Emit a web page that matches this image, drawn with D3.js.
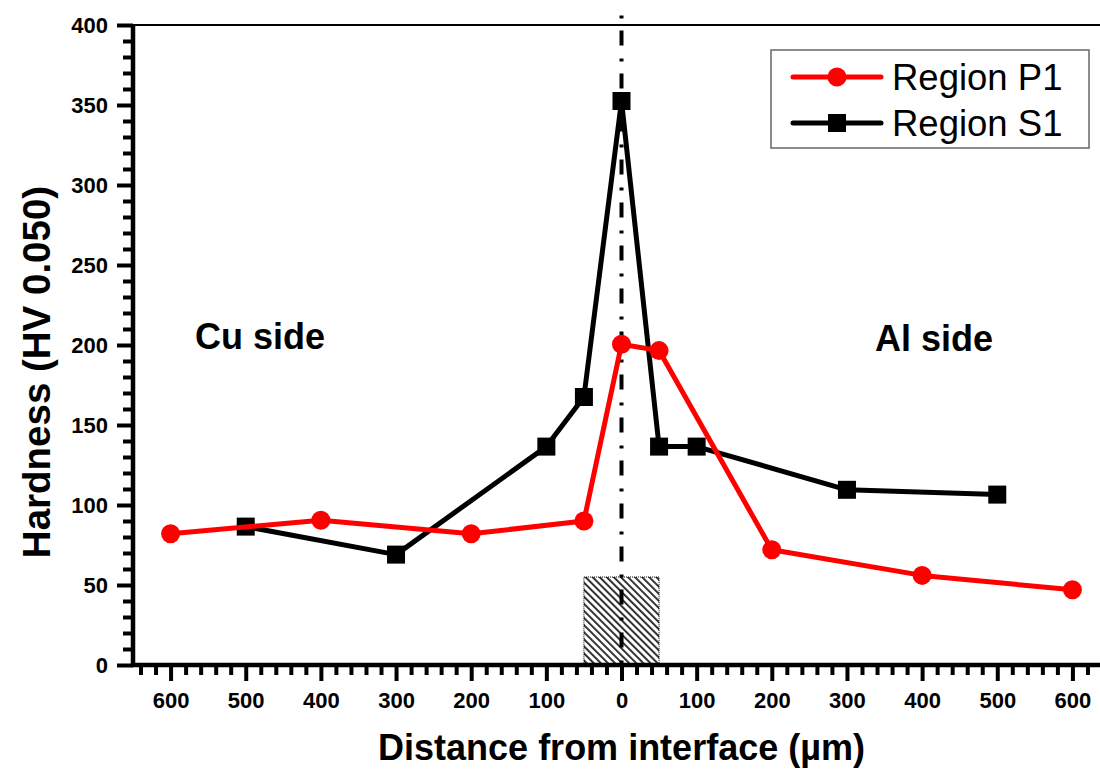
<!DOCTYPE html>
<html>
<head>
<meta charset="utf-8">
<script src="https://cdn.jsdelivr.net/npm/d3@7/dist/d3.min.js"></script>
<style>
  html, body { margin: 0; padding: 0; background: #fff; }
  svg { display: block; font-family: "Liberation Sans", Arial, sans-serif; }
</style>
</head>
<body>
<svg id="chart" width="1100" height="772"></svg>
<script>
// ---- Data ----
const seriesNames = ["Region P1", "Region S1"];
const xP1 = [-600, -400, -200, -50, 0, 50, 200, 400, 600];
const yP1 = [82, 90.5, 82, 90, 200.5, 196.5, 72, 56, 47];
const xS1 = [-500, -300, -100, -50, 0, 50, 100, 300, 500];
const yS1 = [86.5, 69, 136.5, 167.5, 352.5, 136.5, 136.5, 109.5, 106.5];
const xTickValues = [-600, -500, -400, -300, -200, -100, 0, 100, 200, 300, 400, 500, 600];
const yTickValues = [0, 50, 100, 150, 200, 250, 300, 350, 400];
const sideLabels = ["Cu side", "Al side"];
const interfaceZone = [-50, 50, 55];   // x from, x to, height (HV)
const xTitle = "Distance from interface (\u00b5m)";
const yTitle = "Hardness (HV 0.050)";

// ---- Layout ----
const svg = d3.select("#chart");
const x = d3.scaleLinear().domain([-650, 650]).range([133, 1110]);
const y = d3.scaleLinear().domain([0, 400]).range([665, 25]);
const RED = "#ff0000";

// Hatch pattern
const defs = svg.append("defs");
const pat = defs.append("pattern")
  .attr("id", "hatch").attr("patternUnits", "userSpaceOnUse")
  .attr("width", 5).attr("height", 5)
  .attr("patternTransform", "rotate(-45)");
pat.append("rect").attr("width", 5).attr("height", 5).attr("fill", "#fff");
pat.append("rect").attr("width", 1.9).attr("height", 5).attr("fill", "#2a2a2a");

// Interface hatched box
svg.append("rect")
  .attr("x", x(interfaceZone[0])).attr("y", y(interfaceZone[2]))
  .attr("width", x(interfaceZone[1]) - x(interfaceZone[0]))
  .attr("height", y(0) - y(interfaceZone[2]))
  .attr("fill", "url(#hatch)")
  .attr("stroke", "#000").attr("stroke-width", 1).attr("stroke-dasharray", "1,1");

// Top frame line
svg.append("line")
  .attr("x1", x(-650)).attr("x2", x(650)).attr("y1", y(400)).attr("y2", y(400))
  .attr("stroke", "#000").attr("stroke-width", 2);

// Dash-dot interface line
svg.append("line")
  .attr("x1", x(0)).attr("x2", x(0)).attr("y1", y(406)).attr("y2", y(0))
  .attr("stroke", "#000").attr("stroke-width", 4)
  .attr("stroke-dasharray", "15,13,3,12").attr("stroke-dashoffset", 28);

// ---- Axes ----
const xMinor = d3.range(-640, 641, 20).filter(v => v % 100 !== 0);
const yMinor = d3.range(10, 400, 10).filter(v => v % 50 !== 0);

const gxMinor = svg.append("g").attr("transform", `translate(0,${y(0)})`)
  .call(d3.axisBottom(x).tickValues(xMinor).tickSize(10).tickFormat(""));
const gx = svg.append("g").attr("transform", `translate(0,${y(0)})`)
  .call(d3.axisBottom(x).tickValues(xTickValues).tickSize(16).tickFormat(d => Math.abs(d)));
const gyMinor = svg.append("g").attr("transform", `translate(${x(-650)},0)`)
  .call(d3.axisLeft(y).tickValues(yMinor).tickSize(10).tickFormat(""));
const gy = svg.append("g").attr("transform", `translate(${x(-650)},0)`)
  .call(d3.axisLeft(y).tickValues(yTickValues).tickSize(16));

[gxMinor, gx, gyMinor, gy].forEach(g => {
  g.selectAll(".domain").attr("stroke", "#000").attr("stroke-width", 4.5);
  g.selectAll(".tick line").attr("stroke", "#000").attr("stroke-width", 4);
});
gx.select(".domain").attr("d", `M${x(-650) - 2},0H${x(650)}`);
gxMinor.select(".domain").remove();
gyMinor.select(".domain").remove();
gy.select(".domain").attr("d", `M0,${y(0) + 2}V${y(400)}`);

gx.selectAll(".tick text")
  .attr("y", 43).attr("dy", null)
  .attr("font-size", 22).attr("font-weight", "bold").attr("fill", "#000")
  .attr("font-family", "Liberation Sans, Arial, sans-serif");
gy.selectAll(".tick text")
  .attr("x", -25).attr("dy", "0.36em")
  .attr("font-size", 22).attr("font-weight", "bold").attr("fill", "#000")
  .attr("font-family", "Liberation Sans, Arial, sans-serif");

// Axis titles
svg.append("text")
  .attr("x", x(0)).attr("y", 760)
  .attr("text-anchor", "middle").attr("font-size", 36).attr("font-weight", "bold")
  .text(xTitle);
svg.append("text")
  .attr("transform", "translate(50,372) rotate(-90)")
  .attr("text-anchor", "middle").attr("font-size", 38.5).attr("font-weight", "bold")
  .text(yTitle);

// Side labels
svg.append("text").attr("x", 195).attr("y", 349)
  .attr("font-size", 36).attr("font-weight", "bold").text(sideLabels[0]);
svg.append("text").attr("x", 875).attr("y", 351)
  .attr("font-size", 36).attr("font-weight", "bold").text(sideLabels[1]);

// ---- Series ----
const line = d3.line().x(d => x(d[0])).y(d => y(d[1]));
const s1 = xS1.map((v, i) => [v, yS1[i]]);
const p1 = xP1.map((v, i) => [v, yP1[i]]);

svg.append("path").datum(s1).attr("d", line)
  .attr("fill", "none").attr("stroke", "#000").attr("stroke-width", 5).attr("stroke-linejoin", "round");
svg.selectAll(".sq").data(s1).enter().append("rect")
  .attr("x", d => x(d[0]) - 9).attr("y", d => y(d[1]) - 9)
  .attr("width", 18).attr("height", 18).attr("fill", "#000");

svg.append("path").datum(p1).attr("d", line)
  .attr("fill", "none").attr("stroke", RED).attr("stroke-width", 5).attr("stroke-linejoin", "round");
svg.selectAll(".ci").data(p1).enter().append("circle")
  .attr("cx", d => x(d[0])).attr("cy", d => y(d[1])).attr("r", 9.5).attr("fill", RED);

// ---- Legend ----
const lg = svg.append("g");
lg.append("rect").attr("x", 771).attr("y", 50).attr("width", 318).attr("height", 98)
  .attr("fill", "#fff").attr("stroke", "#666").attr("stroke-width", 1.5);
const rows = [
  { name: seriesNames[0], color: RED, cy: 77, marker: "circle" },
  { name: seriesNames[1], color: "#000", cy: 123, marker: "square" }
];
rows.forEach(r => {
  lg.append("line").attr("x1", 793).attr("x2", 881).attr("y1", r.cy).attr("y2", r.cy)
    .attr("stroke", r.color).attr("stroke-width", 5).attr("stroke-linecap", "round");
  if (r.marker === "circle") {
    lg.append("circle").attr("cx", 837).attr("cy", r.cy).attr("r", 9.5).attr("fill", r.color);
  } else {
    lg.append("rect").attr("x", 828).attr("y", r.cy - 9).attr("width", 18).attr("height", 18).attr("fill", r.color);
  }
  lg.append("text").attr("x", 892).attr("y", r.cy + 13)
    .attr("font-size", 36.5).attr("fill", "#000").text(r.name);
});
</script>
</body>
</html>
